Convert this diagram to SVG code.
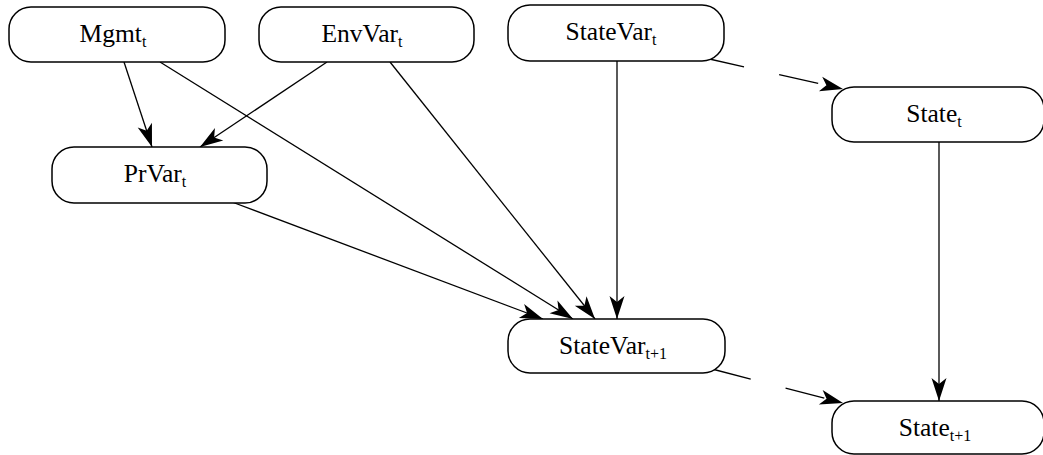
<svg xmlns="http://www.w3.org/2000/svg" width="1043" height="455" viewBox="0 0 1043 455">
<style>
.box{fill:#fff;stroke:#000;stroke-width:1.5}
.lbl{font-family:"Liberation Serif","Times New Roman",serif;font-size:25.5px;fill:#000;text-anchor:middle}
.sub{font-size:16px}
.edge{stroke:#000;stroke-width:1.3;fill:none;marker-end:url(#ah)}
.dash{stroke-dasharray:40 36}
</style>
<defs>
<marker id="ah" markerUnits="userSpaceOnUse" orient="auto" markerWidth="30" markerHeight="20" refX="24" refY="8" viewBox="0 0 30 20">
<path d="M24,8 L1,0.5 L7,8 L1,15.5 Z" fill="#000"/>
</marker>
</defs>
<rect width="1043" height="455" fill="#fff"/>
<g id="connectors">
<line class="edge" x1="124" y1="62" x2="152" y2="147"/>
<line class="edge" x1="327" y1="62" x2="200" y2="147"/>
<line class="edge" x1="160" y1="62" x2="573" y2="319"/>
<line class="edge" x1="390" y1="62" x2="595" y2="319"/>
<line class="edge" x1="617" y1="61" x2="617" y2="319"/>
<line class="edge" x1="232" y1="202" x2="543" y2="319"/>
<line class="edge" x1="939" y1="142" x2="939" y2="401"/>
<line class="edge dash" x1="705" y1="58" x2="843" y2="89"/>
<line class="edge dash" x1="712" y1="369" x2="843" y2="403"/>
</g>
<g id="Mgmt_t">
<rect class="box" x="9" y="7" width="216" height="55" rx="22"/>
<text class="lbl" x="113" y="42">Mgmt<tspan class="sub" dy="5">t</tspan></text>
</g>
<g id="EnvVar_t">
<rect class="box" x="259" y="7" width="215" height="55" rx="22"/>
<text class="lbl" x="362" y="42">EnvVar<tspan class="sub" dy="5">t</tspan></text>
</g>
<g id="StateVar_t">
<rect class="box" x="508" y="5" width="216" height="56" rx="22"/>
<text class="lbl" x="611" y="40">StateVar<tspan class="sub" dy="5">t</tspan></text>
</g>
<g id="PrVar_t">
<rect class="box" x="52" y="147" width="215" height="56" rx="22"/>
<text class="lbl" x="155" y="182">PrVar<tspan class="sub" dy="5">t</tspan></text>
</g>
<g id="State_t">
<rect class="box" x="832" y="87" width="212" height="55" rx="22"/>
<text class="lbl" x="934" y="122">State<tspan class="sub" dy="5">t</tspan></text>
</g>
<g id="StateVar_t1">
<rect class="box" x="508" y="319" width="217" height="54" rx="22"/>
<text class="lbl" x="613" y="354">StateVar<tspan class="sub" dy="5">t+1</tspan></text>
</g>
<g id="State_t1">
<rect class="box" x="832" y="401" width="212" height="53" rx="22"/>
<text class="lbl" x="935" y="436">State<tspan class="sub" dy="5">t+1</tspan></text>
</g>
</svg>
